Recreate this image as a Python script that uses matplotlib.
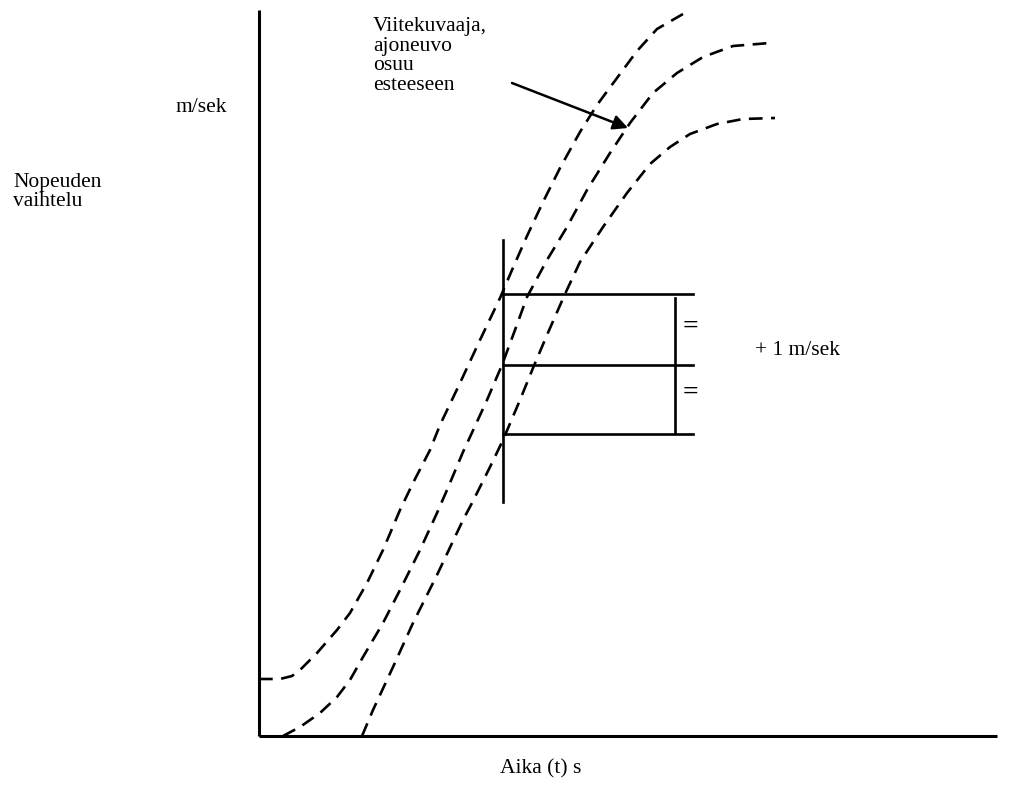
import matplotlib
matplotlib.use("Agg")
import matplotlib.pyplot as plt

# time (t) and speed values, origin at the axis corner
upper_t = [0, 21, 33, 41, 58, 78, 91, 108, 124, 141, 154, 171, 181, 201, 221,
           241, 253, 268, 284, 301, 321, 338, 358, 378, 398, 424]
upper_v = [57, 57, 60, 66, 83, 106, 123, 153, 186, 226, 253, 286, 311, 353, 396,
           438, 466, 500, 534, 568, 604, 631, 658, 685, 707, 722]

middle_t = [24, 41, 61, 78, 91, 104, 124, 141, 161, 178, 188, 204, 211, 228, 243,
            256, 268, 288, 308, 328, 351, 371, 394, 418, 444, 474, 511]
middle_v = [0, 9, 23, 39, 56, 79, 113, 146, 186, 223, 246, 284, 299, 336, 371,
            406, 439, 476, 509, 546, 583, 613, 643, 663, 679, 690, 693]

lower_t = [103, 114, 134, 154, 178, 204, 213, 231, 244, 261, 274, 288, 306, 321,
           344, 368, 391, 411, 431, 458, 484, 516]
lower_v = [0, 26, 69, 113, 161, 216, 233, 269, 296, 336, 368, 401, 442, 474,
           509, 543, 572, 589, 602, 612, 617, 618]

# measuring moment and the three speed levels (+/- 1 m/sek band)
t_check = 244
check_range = [234, 496]
levels = [442, 371, 302]
level_end = 434
bracket_t = 416
bracket_range = [303, 438]

x_max = 738
y_max = 726

FONT = "Liberation Serif"

fig = plt.figure(figsize=(10.11, 7.85), dpi=100)
ax = fig.add_axes([0, 0, 1, 1])
ax.set_xlim(-259, 752)
ax.set_ylim(-49, 736)
ax.axis("off")

# axes
ax.plot([0, 0], [0, y_max], color="black", lw=2.2, solid_capstyle="butt")
ax.plot([0, x_max], [0, 0], color="black", lw=2.2, solid_capstyle="butt")

# dashed curves
for t, v in [(upper_t, upper_v), (middle_t, middle_v), (lower_t, lower_v)]:
    line, = ax.plot(t, v, color="black", lw=1.9)
    line.set_dashes((5.2, 3.2))

# check line and levels
ax.plot([t_check, t_check], check_range, color="black", lw=1.9)
for lv in levels:
    ax.plot([t_check, level_end], [lv, lv], color="black", lw=1.9)
ax.plot([bracket_t, bracket_t], bracket_range, color="black", lw=1.9)
ax.text(431, 409, "=", fontsize=20, fontweight="bold", family=FONT,
        ha="center", va="center")
ax.text(431, 343, "=", fontsize=20, fontweight="bold", family=FONT,
        ha="center", va="center")

# arrow to the reference curve
ax.annotate("", xy=(369, 608), xytext=(253, 653),
            arrowprops=dict(arrowstyle="-|>", color="black", lw=1.8,
                            mutation_scale=22, shrinkA=0, shrinkB=0))

# labels
fs = 15.5
ax.text(-83, 624, "m/sek", fontsize=fs, family=FONT, va="baseline")
ax.text(-246, 549, "Nopeuden", fontsize=fs, family=FONT, va="baseline")
ax.text(-246, 530, "vaihtelu", fontsize=fs, family=FONT, va="baseline")
for i, s in enumerate(["Viitekuvaaja,", "ajoneuvo", "osuu", "esteeseen"]):
    ax.text(114, 705 - 19.5 * i, s, fontsize=fs, family=FONT, va="baseline")
ax.text(496, 381, "+ 1 m/sek", fontsize=fs, family=FONT, va="baseline")
ax.text(241, -37, "Aika (t) s", fontsize=fs, family=FONT, va="baseline")

fig.savefig("out.png", dpi=100)
